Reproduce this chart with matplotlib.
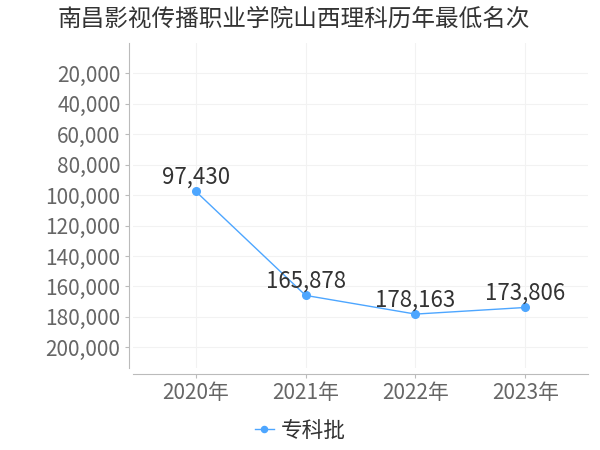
import matplotlib.pyplot as plt
from matplotlib.ticker import FuncFormatter

plt.rcParams['font.family'] = ['Noto Sans CJK SC', 'DejaVu Sans']

# 山西理科 历年最低名次
years = ['2020年', '2021年', '2022年', '2023年']
ranks = [97430, 165878, 178163, 173806]
series_name = '专科批'
y_ticks = [20000, 40000, 60000, 80000, 100000, 120000, 140000, 160000, 180000, 200000]

blue = '#4da6ff'

fig = plt.figure(figsize=(6, 4.5), dpi=100)
ax = fig.add_axes([0.2217, 0.1822, 0.7583, 0.7222])

x = list(range(len(years)))
ax.plot(x, ranks, color=blue, lw=1, marker='o', ms=5.5, label=series_name)

for xi, v in zip(x, ranks):
    ax.annotate(f'{v:,}', (xi, v), xytext=(0, 10), textcoords='offset points',
                ha='center', va='center', fontsize=16, color='#333333')

ax.set_ylim(213600, 0)
ax.set_xlim(-0.57, 3.57)
ax.set_yticks(y_ticks)
ax.yaxis.set_major_formatter(FuncFormatter(lambda v, p: f'{int(v):,}'))
ax.set_xticks(x)
ax.set_xticklabels(years)

ax.grid(True, color='#f2f2f2', lw=0.8)
ax.set_axisbelow(True)
for s in ['top', 'right']:
    ax.spines[s].set_visible(False)
for s in ['left', 'bottom']:
    ax.spines[s].set_color('#bbbbbb')
ax.spines['left'].set_position(('outward', 3))
ax.spines['bottom'].set_position(('outward', 4))
ax.tick_params(axis='both', colors='#bbbbbb', length=3, width=0.8,
               labelcolor='#666666', labelsize=15)
ax.tick_params(axis='y', pad=3)
ax.tick_params(axis='x', pad=3)

fig.text(0.49, 0.958, '南昌影视传播职业学院山西理科历年最低名次',
         ha='center', va='center', fontsize=17, color='#333333')

leg = fig.legend(loc='center', bbox_to_anchor=(0.5, 0.043), frameon=False,
                 prop={'size': 15.6},
                 handlelength=0.9, handletextpad=0.3, markerscale=0.8)
for t in leg.get_texts():
    t.set_color('#333333')

fig.savefig('out.png', dpi=100)
